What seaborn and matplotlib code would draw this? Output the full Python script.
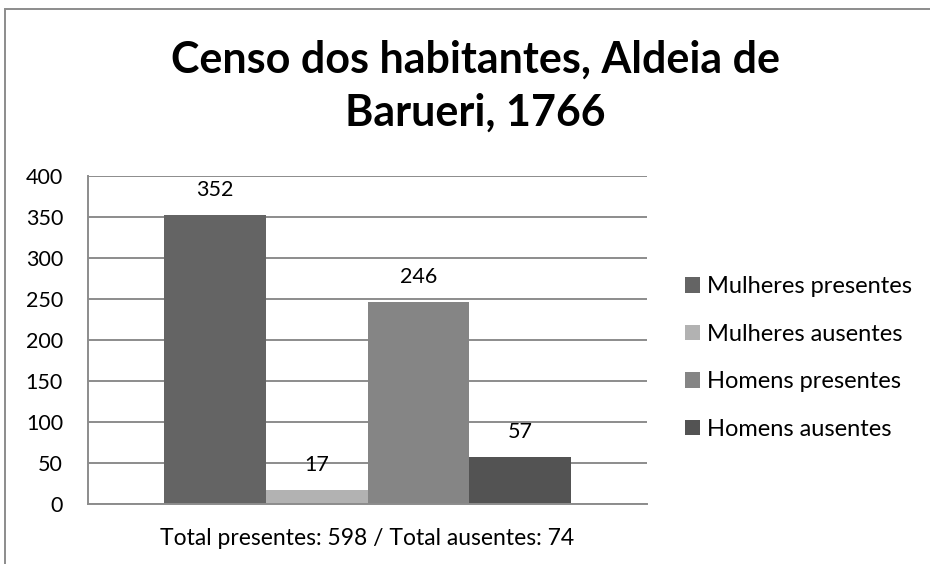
import pandas as pd
import seaborn as sns
import matplotlib.pyplot as plt
from matplotlib.patches import Rectangle

# dados
grupos = ["Total presentes: 598 / Total ausentes: 74"]
series = ["Mulheres presentes", "Mulheres ausentes", "Homens presentes", "Homens ausentes"]
valores = [352, 17, 246, 57]
cores = ["#646464", "#b2b2b2", "#858585", "#535353"]
yticks = [0, 50, 100, 150, 200, 250, 300, 350, 400]

df = pd.DataFrame({"grupo": grupos * len(series), "serie": series, "valor": valores})

sns.set_theme(style="white")
plt.rcParams['font.family'] = ['Lato', 'DejaVu Sans']

fig = plt.figure(figsize=(9.3, 5.64), dpi=100)
ax = fig.add_axes([88 / 930, 60 / 564, 559 / 930, 328 / 564])

sns.barplot(data=df, x="grupo", y="valor", hue="serie", palette=cores,
            saturation=1, width=0.727, gap=0, ax=ax, edgecolor="none")

# rotulos de dados
for cont in ax.containers:
    ax.bar_label(cont, padding=11, fontsize=15.5, color="black")

ax.set_ylim(0, 400)
ax.set_yticks(yticks)
ax.grid(axis="y", color="#8c8c8c", linewidth=1.4)
ax.set_axisbelow(True)
ax.set_xlabel("")
ax.set_ylabel("")
ax.tick_params(axis="y", length=0, pad=18, labelsize=15.5, labelcolor="black")
ax.tick_params(axis="x", length=0, pad=17, labelsize=16.5, labelcolor="black")
for lado in ["top", "right"]:
    ax.spines[lado].set_visible(False)
for lado in ["left", "bottom"]:
    ax.spines[lado].set_color("#8c8c8c")
    ax.spines[lado].set_linewidth(1.4)

leg = ax.legend(loc="center left", bbox_to_anchor=(685 / 930, 1 - 358 / 564),
                bbox_transform=fig.transFigure, frameon=False, fontsize=17,
                handlelength=0.62, handleheight=0.62, handletextpad=0.3,
                labelspacing=1.12, borderaxespad=0, borderpad=0)
for t in leg.get_texts():
    t.set_color("black")

fig.text(475 / 930, 1 - 86 / 564, "Censo dos habitantes, Aldeia de\nBarueri, 1766",
         ha="center", va="center", fontsize=31, fontweight="bold",
         linespacing=1.38, color="black")

# moldura do grafico
fig.patches.append(Rectangle((5 / 930, -0.1), 2, 1.1 - 9 / 564, transform=fig.transFigure,
                             fill=False, edgecolor="#8c8c8c", linewidth=1.4))

fig.savefig("out.png", dpi=100, facecolor="white")
